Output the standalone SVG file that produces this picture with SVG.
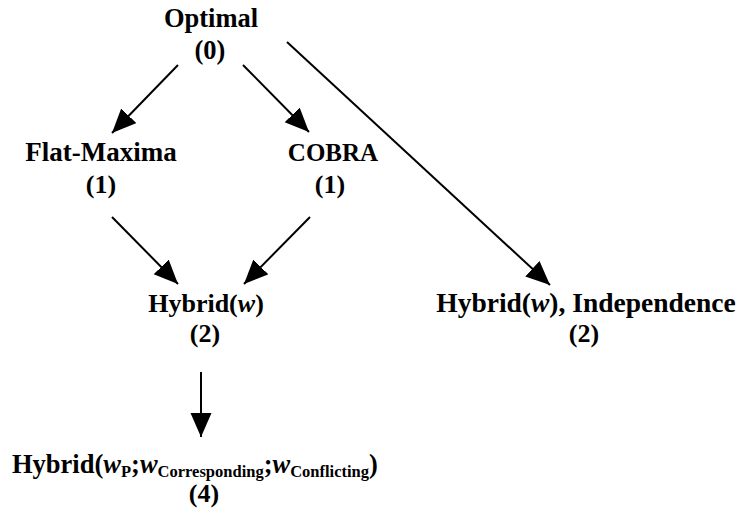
<svg xmlns="http://www.w3.org/2000/svg" width="740" height="512" viewBox="0 0 740 512">
<defs>
  <marker id="ah" markerUnits="userSpaceOnUse" markerWidth="26" markerHeight="22" refX="24" refY="10.5" orient="auto">
    <path d="M0,0 L24,10.5 L0,21 z" fill="#000"/>
  </marker>
</defs>
<rect width="740" height="512" fill="#fff"/>
<g id="connectors" stroke="#000" stroke-width="2">
  <line x1="178" y1="65" x2="112" y2="133" marker-end="url(#ah)"/>
  <line x1="243" y1="65" x2="309" y2="132" marker-end="url(#ah)"/>
  <line x1="287" y1="42" x2="550" y2="285" marker-end="url(#ah)"/>
  <line x1="112" y1="217" x2="178" y2="284" marker-end="url(#ah)"/>
  <line x1="310" y1="217" x2="244" y2="284" marker-end="url(#ah)"/>
  <line x1="201" y1="372" x2="201" y2="437" marker-end="url(#ah)"/>
</g>
<g id="optimal" font-family="Liberation Serif" font-weight="bold" font-size="26.5" text-anchor="middle">
  <text x="211" y="27">Optimal</text>
  <text x="210" y="59">(0)</text>
</g>
<g id="flatmaxima" font-family="Liberation Serif" font-weight="bold" font-size="27" text-anchor="middle">
  <text x="101" y="161">Flat-Maxima</text>
  <text x="101" y="193" font-size="26">(1)</text>
</g>
<g id="cobra" font-family="Liberation Serif" font-weight="bold" font-size="25" text-anchor="middle">
  <text x="333" y="161">COBRA</text>
  <text x="330" y="193" font-size="26">(1)</text>
</g>
<g id="hybridw" font-family="Liberation Serif" font-weight="bold" font-size="26" text-anchor="middle">
  <text x="206" y="312">Hybrid(<tspan font-style="italic">w</tspan>)</text>
  <text x="205" y="342">(2)</text>
</g>
<g id="hybridindep" font-family="Liberation Serif" font-weight="bold" font-size="27.5" text-anchor="middle">
  <text x="586" y="312">Hybrid(<tspan font-style="italic">w</tspan>), Independence</text>
  <text x="584" y="342" font-size="26">(2)</text>
</g>
<g id="hybrid4" font-family="Liberation Serif" font-weight="bold">
  <text x="12" y="473" font-size="26.5">Hybrid(<tspan font-style="italic">w</tspan><tspan font-size="16.5" dy="4">P</tspan><tspan dy="-4">;</tspan><tspan font-style="italic">w</tspan><tspan font-size="16.5" dy="4">Corresponding</tspan><tspan dy="-4">;</tspan><tspan font-style="italic">w</tspan><tspan font-size="16.5" dy="4">Conflicting</tspan><tspan dy="-4">)</tspan></text>
  <text x="204" y="502" font-size="26" text-anchor="middle">(4)</text>
</g>
</svg>
